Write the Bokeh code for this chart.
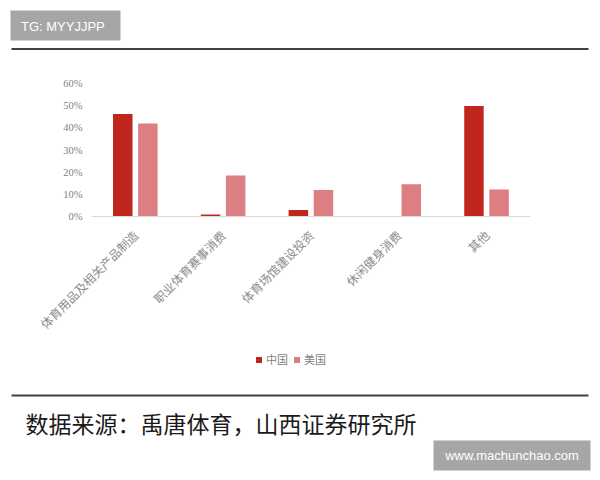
import math
from bokeh.plotting import figure
from bokeh.models import (ColumnDataSource, Range1d, FactorRange, Legend, LegendItem,
                          NumeralTickFormatter)
from bokeh.transform import dodge
from bokeh.embed import file_html
from bokeh.resources import INLINE
from bokeh.core.properties import value

# ---- data ----
categories = ["体育用品及相关产品制造", "职业体育赛事消费", "体育场馆建设投资", "休闲健身消费", "其他"]
china = [0.462, 0.009, 0.029, 0.0, 0.498]
usa = [0.419, 0.185, 0.119, 0.146, 0.122]
series_names = ["中国", "美国"]
series_colors = ["#c0261e", "#dd7f82"]
y_ticks = [0.0, 0.1, 0.2, 0.3, 0.4, 0.5, 0.6]
tag_text = "TG: MYYJJPP"
source_note = "数据来源：禹唐体育，山西证券研究所"
site_text = "www.machunchao.com"

W = 592
CJK = "Noto Sans CJK SC"


def strip(h):
    f = figure(width=W, height=h, x_range=Range1d(0, W), y_range=Range1d(h, 0),
               output_backend="svg", toolbar_location=None, min_border=0,
               x_axis_location=None, y_axis_location=None)
    f.grid.visible = False
    f.outline_line_color = None
    return f


# ---- top strip (page y 0..60) ----
top = strip(60)
top.quad(left=10, right=120, top=10, bottom=40, fill_color="#a6a6a6", line_color=None)
top.text(x=20.5, y=25.5, text=[tag_text], text_font=value("Liberation Sans"),
         text_font_size="13px", text_color="white", text_baseline="middle")
top.segment(x0=11, y0=48.5, x1=588, y1=48.5, line_color="#404040", line_width=2)

# ---- main chart (page y 60..340) ----
p = figure(width=W, height=280, x_range=FactorRange(*categories), y_range=Range1d(0, 0.6),
           output_backend="svg", toolbar_location=None,
           min_border_left=91, min_border_right=62, min_border_top=23, min_border_bottom=121)
p.outline_line_color = None
p.xgrid.visible = False
p.ygrid.visible = False

src = ColumnDataSource(dict(cat=categories, china=china, usa=usa))
p.vbar(x=dodge("cat", -0.144, range=p.x_range), top="china", width=0.222, source=src,
       fill_color=series_colors[0], line_color=None)
p.vbar(x=dodge("cat", 0.142, range=p.x_range), top="usa", width=0.222, source=src,
       fill_color=series_colors[1], line_color=None)

p.xaxis.major_label_orientation = math.pi / 4
p.xaxis.major_tick_line_color = None
p.xaxis.minor_tick_line_color = None
p.xaxis.major_tick_out = 0
p.xaxis.major_tick_in = 0
p.xaxis.axis_line_color = "#d9d9d9"
p.xaxis.axis_line_width = 1
p.xaxis.major_label_text_font = CJK
p.xaxis.major_label_text_font_size = "12px"
p.xaxis.major_label_text_color = "#8c8c8c"
p.xaxis.major_label_standoff = 16

p.yaxis.ticker = y_ticks
p.yaxis.formatter = NumeralTickFormatter(format="0%")
p.yaxis.axis_line_color = None
p.yaxis.major_tick_line_color = None
p.yaxis.minor_tick_line_color = None
p.yaxis.major_tick_out = 0
p.yaxis.major_tick_in = 0
p.yaxis.major_label_text_font = "Liberation Serif"
p.yaxis.major_label_text_font_size = "10.5px"
p.yaxis.major_label_text_color = "#808080"
p.yaxis.major_label_standoff = 9

# ---- legend strip (page y 340..380) ----
leg = strip(40)
nan = float("nan")
m1 = leg.scatter(x=[nan], y=[nan], marker="square", fill_color=series_colors[0], line_color=None)
m2 = leg.scatter(x=[nan], y=[nan], marker="square", fill_color=series_colors[1], line_color=None)
legend = Legend(items=[LegendItem(label=series_names[0], renderers=[m1]),
                       LegendItem(label=series_names[1], renderers=[m2])],
                orientation="horizontal", location=(251, 13),
                glyph_width=15, glyph_height=15, label_height=15, label_standoff=0,
                spacing=1, padding=0, margin=0,
                label_text_font=CJK, label_text_font_size="11px", label_text_color="#7f7f7f",
                background_fill_alpha=0, border_line_color=None)
leg.add_layout(legend)

# ---- bottom strip (page y 380..472) ----
bot = strip(92)
bot.segment(x0=11, y0=15, x1=588, y1=15, line_color="#404040", line_width=2)
bot.text(x=25, y=42, text=[source_note], text_font=value(CJK), text_font_size="23px",
         text_color="#1a1a1a", text_baseline="middle")
bot.quad(left=433, right=590, top=60, bottom=90, fill_color="#a6a6a6", line_color=None)
bot.text(x=511.5, y=75, text=[site_text], text_font=value("Liberation Sans"),
         text_font_size="13px", text_color="white", text_baseline="middle", text_align="center")

open("out.html", "w").write(file_html([top, p, leg, bot], INLINE))
